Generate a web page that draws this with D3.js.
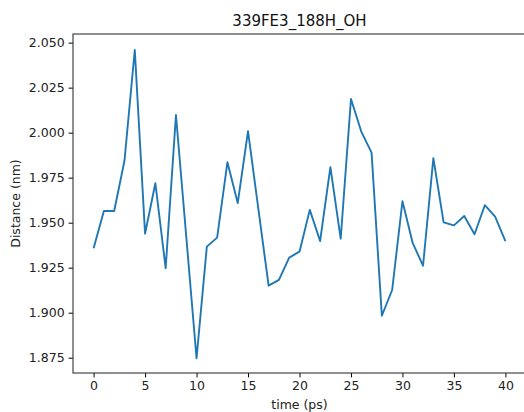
<!DOCTYPE html>
<html lang="en">
<head>
    <meta charset="UTF-8">
    <title>339FE3_188H_OH</title>
    <script src="https://cdn.jsdelivr.net/npm/d3@7"></script>
    <style>
        body { margin: 0; background: #fff; overflow: hidden; }
        svg { display: block; font-family: "DejaVu Sans", sans-serif; }
    </style>
</head>
<body>
    <script>
        // data
        var times = [0, 1, 2, 3, 4, 5, 6, 7, 8, 9, 10, 11, 12, 13, 14, 15, 16, 17, 18, 19, 20,
                     21, 22, 23, 24, 25, 26, 27, 28, 29, 30, 31, 32, 33, 34, 35, 36, 37, 38, 39, 40];
        var distances = [1.9358, 1.9565, 1.9565, 1.9844, 2.0459, 1.9439, 1.9719, 1.9247, 2.0098, 1.9423,
                         1.8747, 1.9367, 1.9417, 1.9836, 1.9609, 2.0008, 1.9578, 1.9150, 1.9182, 1.9306,
                         1.9339, 1.9571, 1.9398, 1.9808, 1.9411, 2.0187, 2.0006, 1.9889, 1.8983, 1.9126,
                         1.9619, 1.9386, 1.9261, 1.9858, 1.9502, 1.9485, 1.9537, 1.9436, 1.9597, 1.9533,
                         1.9397];
        var xTicks = [0, 5, 10, 15, 20, 25, 30, 35, 40];
        var yTicks = [1.875, 1.900, 1.925, 1.950, 1.975, 2.000, 2.025, 2.050];

        var w = 524;
        var h = 412;
        // axes box (right side runs past the picture edge)
        // note: "top" is taken by window.top, so use plot* names
        var plotLeft = 73, plotRight = 526, plotTop = 34, plotBottom = 373;

        var x = d3.scaleLinear().domain([-2, 42]).range([plotLeft, plotRight]);
        var y = d3.scaleLinear().domain([1.8665, 2.0548]).range([plotBottom, plotTop]);

        var svg = d3.select("body").append("svg")
            .attr("width", w)
            .attr("height", h);

        // line
        var line = d3.line()
            .x(function(d, i) { return x(times[i]); })
            .y(function(d) { return y(d); });

        svg.append("path")
            .datum(distances)
            .attr("fill", "none")
            .attr("stroke", "#1f77b4")
            .attr("stroke-width", 1.9)
            .attr("stroke-linejoin", "round")
            .attr("d", line);

        // axes
        var xAxis = d3.axisBottom(x).tickValues(xTicks).tickSize(4.4).tickPadding(4).tickFormat(d3.format("d"));
        var yAxis = d3.axisLeft(y).tickValues(yTicks).tickSize(4.4).tickPadding(4).tickFormat(d3.format(".3f"));

        var gx = svg.append("g").attr("transform", "translate(0," + plotBottom + ")").call(xAxis);
        var gy = svg.append("g").attr("transform", "translate(" + plotLeft + ",0)").call(yAxis);

        [gx, gy].forEach(function(g) {
            g.select(".domain").remove();
            g.selectAll(".tick line").attr("stroke", "#000").attr("stroke-width", 1);
            g.selectAll(".tick text")
                .attr("fill", "#222")
                .attr("font-size", "12.5px")
                .attr("font-family", "DejaVu Sans, sans-serif");
        });

        // spines
        svg.append("rect")
            .attr("x", plotLeft)
            .attr("y", plotTop)
            .attr("width", plotRight - plotLeft)
            .attr("height", plotBottom - plotTop)
            .attr("fill", "none")
            .attr("stroke", "#333")
            .attr("stroke-width", 1.1);

        // title and labels
        svg.append("text")
            .text("339FE3_188H_OH")
            .attr("x", (plotLeft + plotRight) / 2)
            .attr("y", 26)
            .attr("text-anchor", "middle")
            .attr("font-size", "15px")
            .attr("fill", "#111");

        svg.append("text")
            .text("time (ps)")
            .attr("x", (plotLeft + plotRight) / 2)
            .attr("y", 409)
            .attr("text-anchor", "middle")
            .attr("font-size", "12.5px")
            .attr("fill", "#222");

        svg.append("text")
            .text("Distance (nm)")
            .attr("transform", "translate(20," + (plotTop + plotBottom) / 2 + ") rotate(-90)")
            .attr("text-anchor", "middle")
            .attr("font-size", "12.5px")
            .attr("fill", "#222");
    </script>
</body>
</html>
